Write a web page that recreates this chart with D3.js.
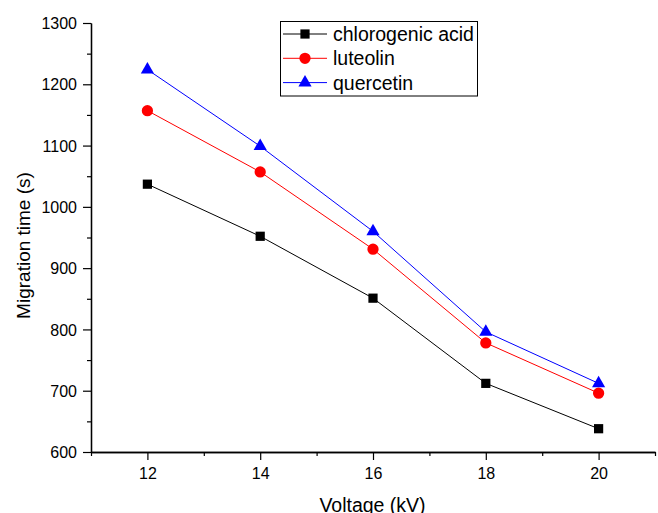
<!DOCTYPE html>
<html><head><meta charset="utf-8">
<script src="https://cdn.jsdelivr.net/npm/d3@7"></script>
<style>body{margin:0;background:#fff}svg{display:block;font-family:"Liberation Sans",Arial,sans-serif}</style>
</head><body>
<svg id="c" width="658" height="513"></svg>
<script>
const voltages = [12, 14, 16, 18, 20];
const chlorogenic = [1037, 952, 851, 712, 638];
const luteolin = [1157, 1057, 931, 778, 696];
const quercetin = [1224, 1099, 960, 796, 712];
const xTicks = [12, 14, 16, 18, 20];
const yTicks = [600, 700, 800, 900, 1000, 1100, 1200, 1300];
const seriesNames = ["chlorogenic acid", "luteolin", "quercetin"];

const svg = d3.select("#c");
const x = d3.scaleLinear().domain([11, 21]).range([91, 655]);
const y = d3.scaleLinear().domain([600, 1300]).range([452, 23]);
const FONT = '"Liberation Sans",Arial,sans-serif';

// axes
const xAxis = svg.append("g").attr("transform", "translate(0,452)");
xAxis.call(d3.axisBottom(x).tickValues(xTicks).tickSize(8).tickSizeOuter(0).tickFormat(d3.format("d")));
const xMinor = svg.append("g").attr("transform", "translate(0,452)");
xMinor.call(d3.axisBottom(x).tickValues([11, 13, 15, 17, 19, 21]).tickSize(4).tickSizeOuter(0).tickFormat(""));
const yAxis = svg.append("g").attr("transform", "translate(91,0)");
yAxis.call(d3.axisLeft(y).tickValues(yTicks).tickSize(8).tickSizeOuter(0).tickFormat(d3.format("d")));
const yMinor = svg.append("g").attr("transform", "translate(91,0)");
yMinor.call(d3.axisLeft(y).tickValues([650, 750, 850, 950, 1050, 1150, 1250]).tickSize(4).tickSizeOuter(0).tickFormat(""));
svg.selectAll(".domain").attr("stroke", "#000").attr("stroke-width", 1.3);
svg.selectAll(".tick line").attr("stroke", "#000").attr("stroke-width", 1.2);
svg.selectAll(".tick text").attr("font-size", 16).attr("fill", "#000").attr("font-family", FONT);
xAxis.selectAll(".tick text").attr("y", 27).attr("dy", 0);
yAxis.selectAll(".tick text").attr("x", -14).attr("dy", "0.35em");

// axis titles
svg.append("text").attr("x", 372.5).attr("y", 512).attr("text-anchor", "middle").attr("font-size", 19.5).text("Voltage (kV)");
svg.append("text").attr("transform", "translate(30,245.5) rotate(-90)").attr("text-anchor", "middle").attr("font-size", 19).text("Migration time (s)");

const series = [
  {name: seriesNames[0], vals: chlorogenic, color: "#000", shape: d3.symbolSquare, size: 85},
  {name: seriesNames[1], vals: luteolin, color: "#f00", shape: d3.symbolCircle, size: 100},
  {name: seriesNames[2], vals: quercetin, color: "#00f", shape: d3.symbolTriangle, size: 75}
];
const line = d3.line().x((d, i) => x(voltages[i])).y(d => y(d));
series.forEach(s => {
  svg.append("path").datum(s.vals).attr("d", line).attr("fill", "none").attr("stroke", s.color).attr("stroke-width", 1);
  svg.selectAll(null).data(s.vals).enter().append("path")
    .attr("d", d3.symbol().type(s.shape).size(s.size))
    .attr("transform", (d, i) => `translate(${x(voltages[i])},${y(d)})`)
    .attr("fill", s.color);
});

// legend
const lg = svg.append("g");
lg.append("rect").attr("x", 280.5).attr("y", 21.5).attr("width", 197).attr("height", 74.5).attr("fill", "#fff").attr("stroke", "#000").attr("stroke-width", 1);
series.forEach((s, i) => {
  const cy = 34 + i * 24.3;
  lg.append("line").attr("x1", 283).attr("x2", 327).attr("y1", cy).attr("y2", cy).attr("stroke", s.color).attr("stroke-width", 1);
  lg.append("path").attr("d", d3.symbol().type(s.shape).size(s.size)).attr("transform", `translate(305,${cy})`).attr("fill", s.color);
  lg.append("text").attr("x", 333).attr("y", cy + 7).attr("font-size", 19.5).text(s.name);
});
</script>
</body></html>
